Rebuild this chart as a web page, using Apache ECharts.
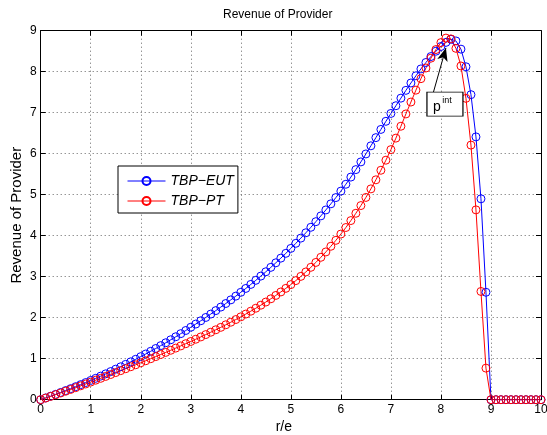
<!DOCTYPE html>
<html>
<head>
<meta charset="utf-8">
<script src="https://cdn.jsdelivr.net/npm/echarts@6/dist/echarts.min.js"></script>
<style>
html,body{margin:0;padding:0;background:#fff;}
#chart{width:547px;height:435px;}
</style>
</head>
<body>
<div id="chart"></div>
<script>
const xValues = [0,0.1,0.2,0.3,0.4,0.5,0.6,0.7,0.8,0.9,1,1.1,1.2,1.3,1.4,1.5,1.6,1.7,1.8,1.9,2,2.1,2.2,2.3,2.4,2.5,2.6,2.7,2.8,2.9,3,3.1,3.2,3.3,3.4,3.5,3.6,3.7,3.8,3.9,4,4.1,4.2,4.3,4.4,4.5,4.6,4.7,4.8,4.9,5,5.1,5.2,5.3,5.4,5.5,5.6,5.7,5.8,5.9,6,6.1,6.2,6.3,6.4,6.5,6.6,6.7,6.8,6.9,7,7.1,7.2,7.3,7.4,7.5,7.6,7.7,7.8,7.9,8,8.1,8.2,8.3,8.4,8.5,8.6,8.7,8.8,8.9,9,9.1,9.2,9.3,9.4,9.5,9.6,9.7,9.8,9.9,10];

const eutValues = [0,0.043,0.086,0.131,0.176,0.223,0.270,0.318,0.368,0.418,
0.470,0.522,0.576,0.631,0.687,0.745,0.803,0.863,0.924,0.986,
1.050,1.115,1.181,1.249,1.319,1.389,1.462,1.535,1.611,1.688,
1.767,1.845,1.925,2.006,2.089,2.173,2.259,2.346,2.435,2.526,
2.619,2.714,2.812,2.912,3.015,3.120,3.228,3.339,3.453,3.570,
3.690,3.814,3.941,4.071,4.205,4.342,4.483,4.628,4.777,4.930,
5.087,5.255,5.430,5.612,5.800,5.994,6.192,6.392,6.592,6.790,
6.982,7.170,7.355,7.545,7.725,7.900,8.068,8.225,8.370,8.500,
8.615,8.715,8.790,8.750,8.550,8.120,7.440,6.410,4.900,2.620,
0,0,0,0,0,0,0,0,0,0,0];

const ptValues = [0,0.040,0.081,0.122,0.164,0.207,0.250,0.294,0.339,0.384,
0.430,0.476,0.522,0.568,0.615,0.662,0.709,0.756,0.804,0.852,
0.900,0.950,1.000,1.051,1.102,1.154,1.206,1.259,1.312,1.366,
1.420,1.475,1.531,1.588,1.646,1.705,1.765,1.827,1.890,1.955,
2.021,2.089,2.159,2.231,2.305,2.382,2.461,2.543,2.628,2.716,
2.807,2.905,3.008,3.116,3.229,3.348,3.473,3.604,3.742,3.887,
4.040,4.200,4.369,4.547,4.735,4.933,5.142,5.363,5.596,5.842,
6.100,6.380,6.670,6.970,7.260,7.550,7.830,8.090,8.330,8.540,
8.710,8.820,8.800,8.570,8.140,7.350,6.210,4.630,2.640,0.770,
0,0,0,0,0,0,0,0,0,0,0];

const seriesNames = ['TBP\u2212EUT', 'TBP\u2212PT'];
const xTicks = [0,1,2,3,4,5,6,7,8,9,10];
const yTicks = [0,1,2,3,4,5,6,7,8,9];
const arrowFrom = [7.85, 7.5];
const arrowTo = [8.1, 8.58];

const FONT = '"Liberation Sans", Arial, Helvetica, sans-serif';
const pairs = (ys) => xValues.map((x, i) => [x, ys[i]]);

const chart = echarts.init(document.getElementById('chart'), null, {renderer: 'canvas'});

const gridLine = {show: true, lineStyle: {color: '#666', width: 1, type: [1, 3]}};
const axisLineStyle = {show: true, onZero: false, lineStyle: {color: '#000', width: 1}};
const tick = {show: true, inside: true, length: 5, lineStyle: {color: '#000', width: 1}};

const option = {
  animation: false,
  backgroundColor: '#fff',
  title: {
    text: 'Revenue of Provider',
    left: 223, top: 9, padding: 0,
    textStyle: {fontFamily: FONT, fontSize: 12, fontWeight: 'normal', color: '#000'}
  },
  grid: {left: 40.7, right: 6, top: 30.7, bottom: 35.3, containLabel: false, outerBoundsMode: 'none'},
  legend: {
    orient: 'vertical', left: 118, top: 166,
    itemWidth: 38, itemHeight: 10, itemGap: 6,
    padding: [8, 4, 5, 9],
    borderColor: '#000', borderWidth: 1, backgroundColor: '#fff',
    lineStyle: {width: 1},
    textStyle: {fontFamily: FONT, fontStyle: 'italic', fontSize: 14, color: '#000'},
    data: seriesNames
  },
  xAxis: [{
    type: 'value', min: xTicks[0], max: xTicks[xTicks.length - 1], interval: 1,
    position: 'bottom',
    name: 'r/e', nameLocation: 'middle', nameGap: 20,
    nameTextStyle: {fontFamily: FONT, fontSize: 14, color: '#000', padding: [0, 14, 0, 0]},
    axisLine: axisLineStyle, axisTick: tick,
    axisLabel: {fontFamily: FONT, fontSize: 12, color: '#000', margin: 4},
    splitLine: gridLine
  }, {
    type: 'value', min: xTicks[0], max: xTicks[xTicks.length - 1], interval: 1,
    position: 'top',
    axisLine: axisLineStyle, axisTick: tick,
    axisLabel: {show: false}, splitLine: {show: false}
  }],
  yAxis: [{
    type: 'value', min: yTicks[0], max: yTicks[yTicks.length - 1], interval: 1,
    position: 'left',
    name: 'Revenue of Provider', nameLocation: 'middle', nameGap: 16,
    nameMoveOverlap: false,
    nameTextStyle: {fontFamily: FONT, fontSize: 15, color: '#000'},
    axisLine: axisLineStyle, axisTick: tick,
    axisLabel: {fontFamily: FONT, fontSize: 12, color: '#000', margin: 4},
    splitLine: gridLine
  }, {
    type: 'value', min: yTicks[0], max: yTicks[yTicks.length - 1], interval: 1,
    position: 'right',
    axisLine: axisLineStyle, axisTick: tick,
    axisLabel: {show: false}, splitLine: {show: false}
  }],
  series: [{
    name: seriesNames[0], type: 'line',
    data: pairs(eutValues),
    symbol: 'circle', symbolSize: 8, showAllSymbol: true,
    lineStyle: {color: '#0000ff', width: 1},
    itemStyle: {color: 'rgba(0,0,0,0)', borderColor: '#0000ff', borderWidth: 1},
    emphasis: {disabled: true},
    markLine: {
      silent: true, animation: false,
      symbol: ['none', 'arrow'], symbolSize: [8, 13],
      lineStyle: {color: '#000', width: 1, type: 'solid'},
      label: {show: false},
      data: [[{coord: arrowFrom}, {coord: arrowTo}]]
    }
  }, {
    name: seriesNames[1], type: 'line',
    data: pairs(ptValues),
    symbol: 'circle', symbolSize: 8, showAllSymbol: true,
    lineStyle: {color: '#ff0000', width: 1},
    itemStyle: {color: 'rgba(0,0,0,0)', borderColor: '#ff0000', borderWidth: 1},
    emphasis: {disabled: true},
    markPoint: {
      silent: true, animation: false,
      data: [
        {coord: [8.08, 7.21], symbol: 'rect', symbolSize: [36, 24],
         itemStyle: {color: '#fff', borderColor: '#000', borderWidth: 1},
         label: {show: false}},
        {coord: [7.92, 7.14], symbol: 'rect', symbolSize: 0,
         label: {show: true, position: 'inside', formatter: 'p',
                 fontFamily: FONT, fontSize: 14, color: '#000'}},
        {coord: [8.12, 7.30], symbol: 'rect', symbolSize: 0,
         label: {show: true, position: 'inside', formatter: 'int',
                 fontFamily: FONT, fontSize: 9, color: '#000'}}
      ]
    }
  }]
};
chart.setOption(option);
</script>
</body>
</html>
